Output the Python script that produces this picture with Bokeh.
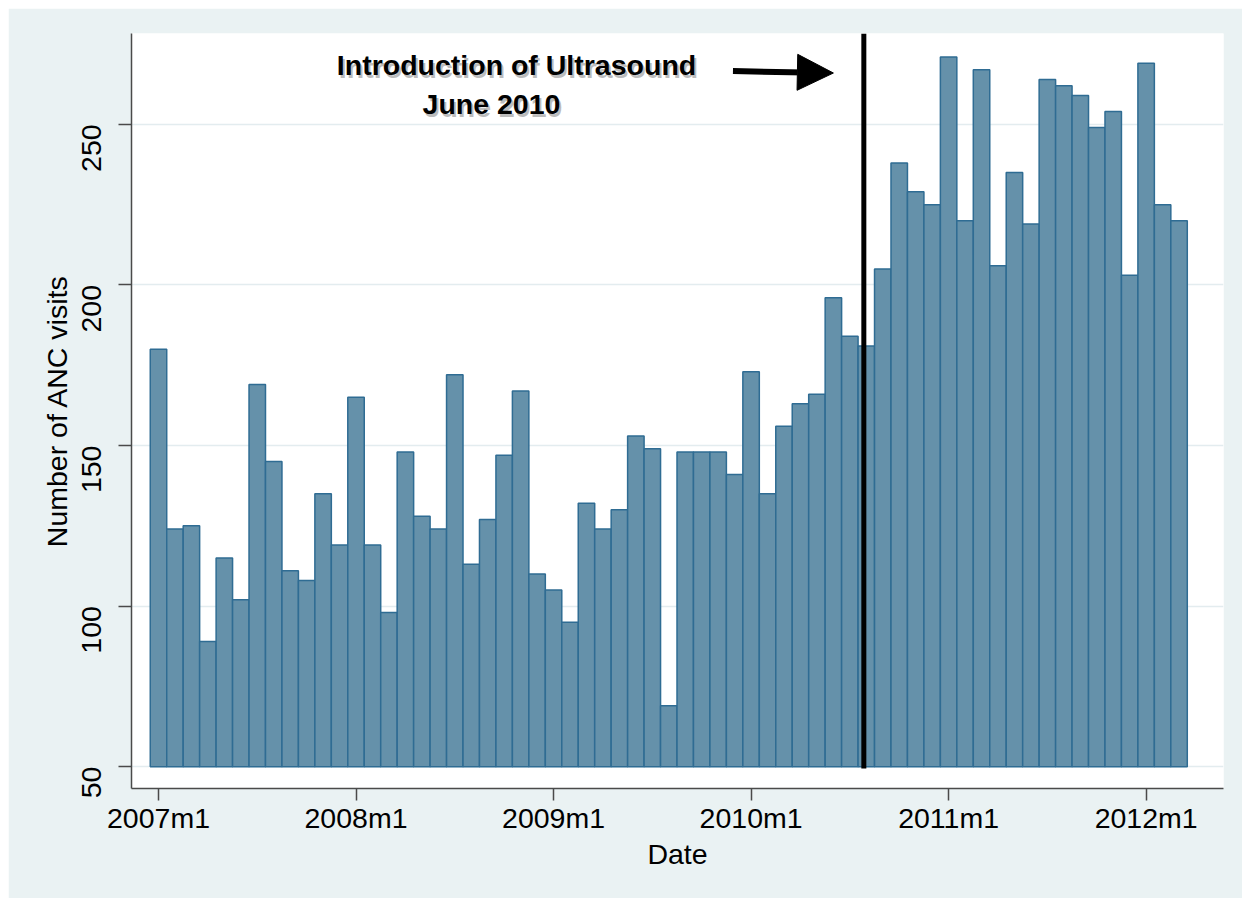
import math
from bokeh.plotting import figure
from bokeh.models import Range1d, FixedTicker, Arrow, NormalHead, ColumnDataSource
from bokeh.core.properties import value
from bokeh.embed import file_html
from bokeh.resources import INLINE

# ---- data ----
start_year = 2007
visits = [180, 124, 125, 89, 115, 102, 169, 145, 111, 108, 135, 119,
          165, 119, 98, 148, 128, 124, 172, 113, 127, 147, 167, 110,
          105, 95, 132, 124, 130, 153, 149, 69, 148, 148, 148, 141,
          173, 135, 156, 163, 166, 196, 184, 181, 205, 238, 229, 225,
          271, 220, 267, 206, 235, 219, 264, 262, 259, 249, 254, 203,
          269, 225, 220]
month_index = list(range(len(visits)))
month_labels = [f"{start_year + i // 12}m{i % 12 + 1}" for i in month_index]
x_tick_pos = [0, 12, 24, 36, 48, 60]
x_tick_labels = ["2007m1", "2008m1", "2009m1", "2010m1", "2011m1", "2012m1"]
y_ticks = [50, 100, 150, 200, 250]
bar_base = 50
intervention_x = 42.85
annotation_lines = ["Introduction of Ultrasound", "June 2010"]

FONT = "Liberation Sans"
BG = "#EAF2F3"

p = figure(width=1234, height=890, output_backend="svg", toolbar_location=None,
           x_range=Range1d(-1.64, 64.7), y_range=Range1d(43.2, 278.3),
           min_border_left=123, min_border_right=19, min_border_top=25,
           min_border_bottom=110)
p.margin = (8, 8, 8, 8)
p.background_fill_color = "white"
p.border_fill_color = BG
p.outline_line_color = None

src = ColumnDataSource(dict(x=month_index, top=visits, label=month_labels,
                            bottom=[bar_base] * len(visits)))
p.vbar(x="x", top="top", bottom="bottom", width=1.0, source=src,
       fill_color="#6591AA", line_color="#2F6C93", line_width=1.5)

# intervention line
p.segment(x0=[intervention_x], y0=[49.4], x1=[intervention_x], y1=[278.3],
          line_color="black", line_width=5)

# arrow
p.add_layout(Arrow(end=NormalHead(size=36, fill_color="black", line_color="black"),
                   x_start=34.9, y_start=266.6, x_end=41.0, y_end=266.0,
                   line_color="black", line_width=6))

# annotation text with soft shadow
tx = [21.75, 20.23]
ty = [268.6, 256.2]
p.text(x=tx, y=ty, text=annotation_lines, text_font=value(FONT),
       text_font_size="28.5px", text_font_style="bold", text_color="#7a7a7a",
       text_alpha=0.5, text_align="center", text_baseline="middle",
       x_offset=2, y_offset=3)
p.text(x=tx, y=ty, text=annotation_lines, text_font=value(FONT),
       text_font_size="28.5px", text_font_style="bold", text_color="black",
       text_align="center", text_baseline="middle")

# axes
p.xaxis.ticker = FixedTicker(ticks=x_tick_pos)
p.xaxis.major_label_overrides = {t: l for t, l in zip(x_tick_pos, x_tick_labels)}
p.yaxis.ticker = FixedTicker(ticks=y_ticks)
p.xaxis.axis_label = "Date"
p.yaxis.axis_label = "Number of ANC visits"
p.yaxis.major_label_orientation = math.pi / 2
for ax in (p.xaxis, p.yaxis):
    ax.axis_line_color = "#4a4a4a"
    ax.axis_line_width = 1.5
    ax.major_tick_line_color = "#4a4a4a"
    ax.major_tick_line_width = 1.5
    ax.minor_tick_line_color = None
    ax.major_tick_in = 0
    ax.major_label_text_font = FONT
    ax.major_label_text_font_size = "28.5px"
    ax.major_label_text_color = "black"
    ax.axis_label_text_font = FONT
    ax.axis_label_text_font_size = "28.5px"
    ax.axis_label_text_font_style = "normal"
    ax.axis_label_text_color = "black"
p.xaxis.major_tick_out = 12
p.yaxis.major_tick_out = 13
p.xaxis.major_label_standoff = 1
p.yaxis.major_label_standoff = 27
p.xaxis.axis_label_standoff = 1
p.yaxis.axis_label_standoff = -3

p.xgrid.grid_line_color = None
p.ygrid.grid_line_color = "#E3ECEF"
p.ygrid.grid_line_width = 1.5

open("out.html", "w").write(file_html(p, INLINE))
